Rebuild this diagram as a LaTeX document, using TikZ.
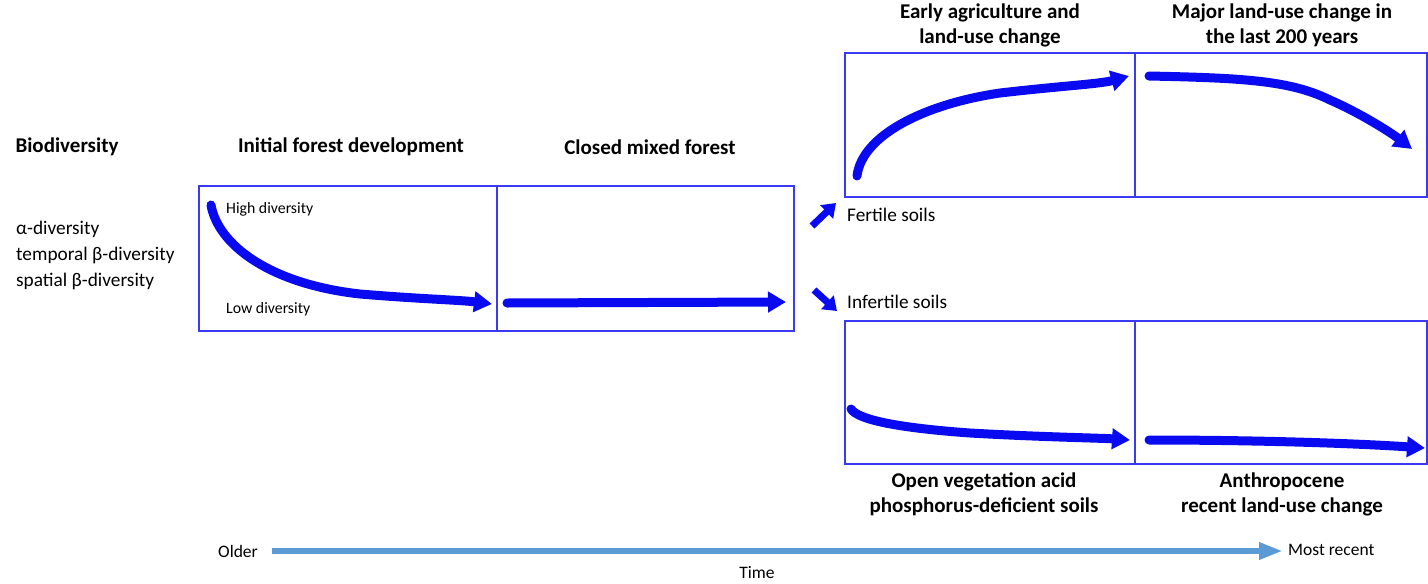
\documentclass[tikz,border=0pt]{standalone}
\usepackage{fontspec}
\setmainfont{Carlito}
\usetikzlibrary{arrows.meta}
\definecolor{boxblue}{HTML}{3A3AF5}
\definecolor{arrblue}{HTML}{0A0AF0}
\definecolor{timeblue}{HTML}{5B9BD5}
\tikzset{
  panel/.style={draw=boxblue, line width=1.4pt},
  hdr/.style={font=\fontsize{21}{25}\selectfont\bfseries, align=center},
  lbl/.style={font=\fontsize{19.3}{26}\selectfont, anchor=west, inner sep=0pt},
  small/.style={font=\fontsize{15.8}{18}\selectfont, anchor=west, inner sep=0pt},
  trend/.style={draw=arrblue, line width=9pt, line cap=round, -{Triangle[length=18pt,width=20pt]}},
  fork/.style={draw=arrblue, line width=7pt, -{Triangle[length=13pt,width=18pt]}},
  timeline/.style={draw=timeblue, line width=6pt, -{Triangle[length=24pt,width=16pt]}},
  tl/.style={font=\fontsize{17.5}{20}\selectfont, inner sep=0pt}
}
\begin{document}
\begin{tikzpicture}[x=1pt,y=-1pt]
\useasboundingbox (0,0) rectangle (1428,584);
% panels
\draw[panel] (199,186) rectangle (794,331);
\draw[panel] (497,186) -- (497,331);
\draw[panel] (845,53) rectangle (1427,197);
\draw[panel] (1135,53) -- (1135,197);
\draw[panel] (845,321) rectangle (1427,464);
\draw[panel] (1135,321) -- (1135,464);
% headers
\node[hdr] (bio) at (67,147) {Biodiversity};
\node[hdr] (ifd) at (351,147) {Initial forest development};
\node[hdr] (cmf) at (650,147) {Closed mixed forest};
\node[hdr] (eag) at (990,25) {Early agriculture and\\land-use change};
\node[hdr] (mlu) at (1282,25) {Major land-use change in\\the last 200 years};
\node[hdr] (ova) at (984,494) {Open vegetation acid\\phosphorus-deficient soils};
\node[hdr] (ant) at (1282,494) {Anthropocene\\recent land-use change};
% left labels
\node[lbl] (ad) at (16,229) {α-diversity};
\node[lbl] (td) at (16,255) {temporal β-diversity};
\node[lbl] (sd) at (16,281) {spatial β-diversity};
\node[small] (hd) at (226,209) {High diversity};
\node[small] (ld) at (226,309) {Low diversity};
\node[lbl] (fs) at (847,215) {Fertile soils};
\node[lbl] (is) at (847,302) {Infertile soils};
% trends
\draw[trend] (211,205) .. controls (218,245) and (270,284) .. (360,294) .. controls (420,299) and (460,300) .. (492,304);
\draw[trend] (507,303) -- (786,302);
\draw[fork] (812,226) -- (836,203);
\draw[fork] (814,290) -- (837,311);
\draw[trend] (857,176) .. controls (862,135) and (925,104) .. (1000,93) .. controls (1060,86) and (1100,84) .. (1129,76);
\draw[trend] (1149,76) .. controls (1240,78) and (1290,80) .. (1330,100) .. controls (1360,113) and (1390,132) .. (1412,149);
\draw[trend] (851,409) .. controls (858,420) and (900,428) .. (970,433) .. controls (1040,437) and (1100,438) .. (1130,440);
\draw[trend] (1149,440) .. controls (1250,440) and (1350,443) .. (1425,448);
% time axis
\node[tl, anchor=east] (old) at (258,551) {Older};
\node[tl, anchor=west] (rec) at (1288,550) {Most recent};
\node[tl] (time) at (757,573) {Time};
\draw[timeline] (272,551) -- (1283,551);
\end{tikzpicture}
\end{document}
